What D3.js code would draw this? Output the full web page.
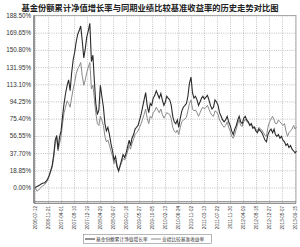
<!DOCTYPE html>
<html>
<head>
<meta charset="utf-8">
<script src="https://cdn.jsdelivr.net/npm/d3@7"></script>
<style>
  body { margin: 0; background: #fff; }
  svg { display: block; }
</style>
</head>
<body>
<svg id="chart" width="300" height="247"></svg>
<script>
const title = '基金份额累计净值增长率与同期业绩比较基准收益率的历史走势对比图';
const seriesNames = ['基金份额累计净值增长率', '业绩比较基准收益率'];

const yTicks = [0, 18.85, 37.70, 56.55, 75.40, 94.25, 113.10, 131.95, 150.80, 169.65, 188.50];

const xTickLabels = ['2006-07-12', '2006-11-21', '2007-04-01', '2007-08-10', '2007-12-19',
  '2008-04-29', '2008-09-07', '2009-01-16', '2009-05-27', '2009-10-05', '2010-02-13',
  '2010-06-24', '2010-11-02', '2011-03-13', '2011-07-22', '2011-11-30', '2012-04-09',
  '2012-08-18', '2012-12-27', '2013-05-07', '2013-09-15'];

// semi-monthly sampling dates
const dates = ['2006-07-12',
  '2006-08-01', '2006-08-16', '2006-09-01', '2006-09-16', '2006-10-01', '2006-10-16',
  '2006-11-01', '2006-11-16', '2006-12-01', '2006-12-16',
  '2007-01-01', '2007-01-16', '2007-02-01', '2007-02-16', '2007-03-01', '2007-03-16',
  '2007-04-01', '2007-04-16', '2007-05-01', '2007-05-16', '2007-06-01', '2007-06-16',
  '2007-07-01', '2007-07-16', '2007-08-01', '2007-08-16', '2007-09-01', '2007-09-16',
  '2007-10-01', '2007-10-16', '2007-11-01', '2007-11-16', '2007-12-01', '2007-12-16',
  '2008-01-01', '2008-01-16', '2008-02-01', '2008-02-16', '2008-03-01', '2008-03-16',
  '2008-04-01', '2008-04-16', '2008-05-01', '2008-05-16', '2008-06-01', '2008-06-16',
  '2008-07-01', '2008-07-16', '2008-08-01', '2008-08-16', '2008-09-01', '2008-09-16',
  '2008-10-01', '2008-10-16', '2008-11-01', '2008-11-16', '2008-12-01', '2008-12-16',
  '2009-01-01', '2009-01-16', '2009-02-01', '2009-02-16', '2009-03-01', '2009-03-16',
  '2009-04-01', '2009-04-16', '2009-05-01', '2009-05-16', '2009-06-01', '2009-06-16',
  '2009-07-01', '2009-07-16', '2009-08-01', '2009-08-16', '2009-09-01', '2009-09-16',
  '2009-10-01', '2009-10-16', '2009-11-01', '2009-11-16', '2009-12-01', '2009-12-16',
  '2010-01-01', '2010-01-16', '2010-02-01', '2010-02-16', '2010-03-01', '2010-03-16',
  '2010-04-01', '2010-04-16', '2010-05-01', '2010-05-16', '2010-06-01', '2010-06-16',
  '2010-07-01', '2010-07-16', '2010-08-01', '2010-08-16', '2010-09-01', '2010-09-16',
  '2010-10-01', '2010-10-16', '2010-11-01', '2010-11-16', '2010-12-01', '2010-12-16',
  '2011-01-01', '2011-01-16', '2011-02-01', '2011-02-16', '2011-03-01', '2011-03-16',
  '2011-04-01', '2011-04-16', '2011-05-01', '2011-05-16', '2011-06-01', '2011-06-16',
  '2011-07-01', '2011-07-16', '2011-08-01', '2011-08-16', '2011-09-01', '2011-09-16',
  '2011-10-01', '2011-10-16', '2011-11-01', '2011-11-16', '2011-12-01', '2011-12-16',
  '2012-01-01', '2012-01-16', '2012-02-01', '2012-02-16', '2012-03-01', '2012-03-16',
  '2012-04-01', '2012-04-16', '2012-05-01', '2012-05-16', '2012-06-01', '2012-06-16',
  '2012-07-01', '2012-07-16', '2012-08-01', '2012-08-16', '2012-09-01', '2012-09-16',
  '2012-10-01', '2012-10-16', '2012-11-01', '2012-11-16', '2012-12-01', '2012-12-16',
  '2013-01-01', '2013-01-16', '2013-02-01', '2013-02-16', '2013-03-01', '2013-03-16',
  '2013-04-01', '2013-04-16', '2013-05-01', '2013-05-16', '2013-06-01', '2013-06-16',
  '2013-07-01', '2013-07-16', '2013-08-01', '2013-08-16', '2013-09-01', '2013-09-16',
  '2013-09-30'];

// 基金份额累计净值增长率 (%)
const fund = [0,
  1, 2, 3, 4, 5, 5,
  7, 9, 13, 18,
  24, 35, 52, 57, 42, 55,
  62, 78, 92, 103, 112, 118,
  106, 125, 140, 148, 160, 168,
  172, 177, 160, 142, 152, 165,
  172, 180, 138, 145, 118, 92,
  80, 85, 112, 100, 88, 70,
  62, 66, 58, 48, 40, 30,
  34, 24, 18, 24, 30, 36,
  33, 38, 45, 52, 46, 54,
  58, 64, 66, 68, 74, 80,
  88, 96, 104, 90, 82, 92,
  90, 98, 101, 106, 102, 98,
  103, 96, 90, 94, 100, 98,
  96, 90, 78, 72, 70, 74,
  66, 76, 84, 88, 90, 92,
  100, 114, 121, 104, 98, 100,
  96, 90, 94, 98, 100, 97,
  99, 101, 96, 90, 86, 88,
  96, 94, 90, 82, 78, 74,
  72, 74, 78, 72, 68, 62,
  58, 64, 68, 74, 78, 72,
  70, 76, 78, 74, 72, 68,
  70, 65, 66, 62, 60, 64,
  62, 60, 56, 52, 50, 58,
  62, 64, 60, 64, 58, 56,
  58, 54, 56, 52, 50, 46,
  48, 44, 46, 42, 40, 38,
  40];

// 业绩比较基准收益率 (%)
const bench = [0,
  -4, -3, -1, 1, 2, 3,
  5, 8, 12, 17,
  22, 32, 48, 55, 40, 48,
  56, 70, 82, 88, 95, 92,
  88, 98, 108, 115, 125, 130,
  133, 137, 122, 112, 118, 126,
  132, 137, 108, 112, 98, 82,
  70, 68, 78, 74, 68, 56,
  50, 52, 46, 40, 34, 26,
  30, 22, 18, 23, 27, 32,
  30, 34, 40, 46, 42, 48,
  53, 58, 60, 62, 66, 70,
  75, 80, 86, 76, 70, 78,
  76, 82, 84, 88, 85, 82,
  86, 80, 76, 79, 82, 81,
  80, 75, 66, 62, 60, 63,
  58, 66, 72, 74, 75, 77,
  84, 92, 96, 86, 84, 85,
  82, 78, 82, 86, 88, 86,
  88, 90, 86, 82, 79, 78,
  84, 83, 80, 74, 71, 68,
  66, 68, 72, 66, 62, 56,
  54, 58, 64, 70, 74, 68,
  67, 72, 75, 72, 71, 68,
  70, 66, 67, 64, 62, 66,
  64, 63, 60, 57, 56, 66,
  72, 75, 78, 74, 70, 70,
  74, 72, 70, 68, 70, 62,
  56, 60, 62, 64, 68, 64,
  66];

const svg = d3.select('#chart');
const parse = d3.timeParse('%Y-%m-%d');

const margin = { left: 34, right: 296, top: 15.5, bottom: 203 };

const x = d3.scaleTime()
  .domain([parse('2006-07-12'), parse('2013-09-30')])
  .range([35, 296.5]);

const y = d3.scaleLinear()
  .domain([-17, 188.5])
  .range([margin.bottom, margin.top]);

// title
svg.append('text')
  .attr('x', 150)
  .attr('y', 11)
  .attr('text-anchor', 'middle')
  .attr('font-family', '"Noto Sans CJK SC"')
  .attr('font-weight', 'bold')
  .attr('font-size', 8.3)
  .attr('fill', '#222')
  .text(title);

// plot background frame
svg.append('rect')
  .attr('x', margin.left)
  .attr('y', margin.top)
  .attr('width', margin.right - margin.left)
  .attr('height', margin.bottom - margin.top)
  .attr('fill', 'white')
  .attr('stroke', '#999')
  .attr('stroke-width', 0.8);

// horizontal grid + y labels
const yAxis = svg.append('g').attr('class', 'y axis')
  .attr('transform', 'translate(' + margin.left + ',0)')
  .call(d3.axisLeft(y).tickValues(yTicks).tickSize(-(margin.right - margin.left))
    .tickFormat(d => d.toFixed(2) + '%'));
yAxis.select('.domain').remove();
yAxis.selectAll('.tick line')
  .attr('stroke', '#999')
  .attr('stroke-width', 0.6)
  .attr('stroke-dasharray', '1,1.2');
yAxis.selectAll('.tick text')
  .attr('x', -3)
  .attr('font-family', '"Liberation Sans", Arial, sans-serif')
  .attr('font-size', 6.3)
  .attr('fill', '#333');

// vertical grid + x labels
const xAxis = svg.append('g').attr('class', 'x axis')
  .attr('transform', 'translate(0,' + margin.bottom + ')')
  .call(d3.axisBottom(x).tickValues(xTickLabels.map(parse))
    .tickSize(-(margin.bottom - margin.top))
    .tickFormat(d3.timeFormat('%Y-%m-%d')));
xAxis.select('.domain').remove();
xAxis.selectAll('.tick line')
  .attr('stroke', '#999')
  .attr('stroke-width', 0.6)
  .attr('stroke-dasharray', '1,1.2');
xAxis.selectAll('.tick text')
  .attr('transform', 'rotate(-90)')
  .attr('x', -3)
  .attr('y', 0)
  .attr('dy', '0.35em')
  .attr('text-anchor', 'end')
  .attr('font-family', '"Liberation Sans", Arial, sans-serif')
  .attr('font-size', 4.6)
  .attr('fill', '#333');

// left axis line and double bottom line
svg.append('line')
  .attr('x1', margin.left).attr('x2', margin.left)
  .attr('y1', margin.top).attr('y2', margin.bottom)
  .attr('stroke', '#555').attr('stroke-width', 1);
svg.append('line')
  .attr('x1', margin.left).attr('x2', margin.right)
  .attr('y1', margin.bottom - 1.5).attr('y2', margin.bottom - 1.5)
  .attr('stroke', '#777').attr('stroke-width', 0.7);
svg.append('line')
  .attr('x1', margin.left).attr('x2', margin.right)
  .attr('y1', margin.bottom + 0.5).attr('y2', margin.bottom + 0.5)
  .attr('stroke', '#777').attr('stroke-width', 0.7);

// series lines
const line = d3.line()
  .x(d => x(d.date))
  .y(d => y(d.value));

const benchData = dates.map((d, i) => ({ date: parse(d), value: bench[i] }));
const fundData = dates.map((d, i) => ({ date: parse(d), value: fund[i] }));

svg.append('path')
  .datum(benchData)
  .attr('d', line)
  .attr('fill', 'none')
  .attr('stroke', '#8a8a8a')
  .attr('stroke-width', 1);

svg.append('path')
  .datum(fundData)
  .attr('d', line)
  .attr('fill', 'none')
  .attr('stroke', '#2b2b2b')
  .attr('stroke-width', 1.1);

// legend
const legend = svg.append('g').attr('class', 'legend');
legend.append('rect')
  .attr('x', 83.5).attr('y', 234.5)
  .attr('width', 128).attr('height', 9)
  .attr('fill', 'white')
  .attr('stroke', '#888').attr('stroke-width', 0.6);

const legendItems = [
  { name: seriesNames[0], color: '#2b2b2b', x: 85 },
  { name: seriesNames[1], color: '#8a8a8a', x: 151 }
];
legendItems.forEach(item => {
  legend.append('line')
    .attr('x1', item.x).attr('x2', item.x + 10)
    .attr('y1', 239).attr('y2', 239)
    .attr('stroke', item.color).attr('stroke-width', 1);
  legend.append('text')
    .attr('x', item.x + 11)
    .attr('y', 240.8)
    .attr('font-family', '"Noto Sans CJK SC"')
    .attr('font-size', 4.7)
    .attr('fill', '#333')
    .text(item.name);
});
</script>
</body>
</html>
